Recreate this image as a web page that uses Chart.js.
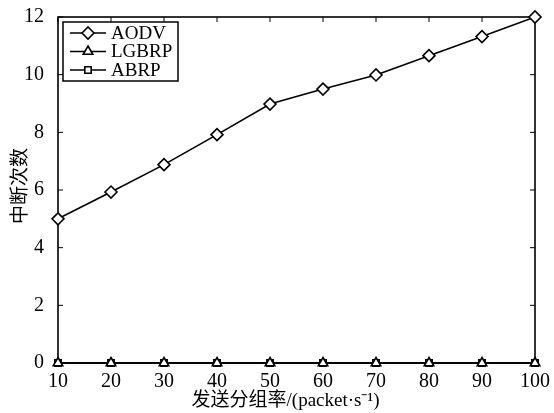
<!DOCTYPE html>
<html><head><meta charset="utf-8">
<script src="https://cdn.jsdelivr.net/npm/chart.js@4"></script>
<style>html,body{margin:0;padding:0;background:#fff}#w{width:554px;height:413px;position:relative}</style>
</head><body><div id="w"><canvas id="c"></canvas></div>
<script>
const categories = [10, 20, 30, 40, 50, 60, 70, 80, 90, 100];
const aodv  = [5, 5.93, 6.88, 7.92, 8.98, 9.5, 9.99, 10.66, 11.32, 12];
const lgbrp = [0, 0, 0, 0, 0, 0, 0, 0, 0, 0];
const abrp  = [0, 0, 0, 0, 0, 0, 0, 0, 0, 0];
const yTicks = [0, 2, 4, 6, 8, 10, 12];
const seriesNames = ['AODV', 'LGBRP', 'ABRP'];
const xTitle = '发送分组率/(packet·s⁻¹)';
const yTitle = '中断次数';

const serif = "'Liberation Serif', 'Noto Sans CJK SC', serif";
const radii = { rectRot: 6, triangle: 5.5, rect: 4.5 };

function mk(label, vals, style) {
  return {
    label, data: categories.map((x, i) => ({x, y: vals[i]})),
    borderColor: '#000', backgroundColor: '#fff', borderWidth: 1.6,
    pointStyle: style, pointRadius: radii[style], pointBorderWidth: 1.6,
    pointBackgroundColor: '#fff', pointBorderColor: '#000',
    clip: false, tension: 0
  };
}

const frame = {
  id: 'frame',
  beforeDatasetsDraw(chart) {
    const {ctx, chartArea: a, scales} = chart;
    ctx.save();
    ctx.strokeStyle = '#000'; ctx.lineWidth = 1.6;
    ctx.strokeRect(a.left, a.top, a.right - a.left, a.bottom - a.top);
    ctx.lineWidth = 1;
    yTicks.forEach(v => {
      const y = scales.y.getPixelForValue(v);
      ctx.beginPath(); ctx.moveTo(a.left, y); ctx.lineTo(a.left + 5, y);
      ctx.moveTo(a.right, y); ctx.lineTo(a.right - 5, y); ctx.stroke();
    });
    categories.forEach(v => {
      const x = scales.x.getPixelForValue(v);
      ctx.beginPath(); ctx.moveTo(x, a.bottom); ctx.lineTo(x, a.bottom - 5);
      ctx.moveTo(x, a.top); ctx.lineTo(x, a.top + 5); ctx.stroke();
    });
    ctx.fillStyle = '#000';
    ctx.font = "19px " + serif; ctx.textAlign = 'center'; ctx.textBaseline = 'middle';
    ctx.fillText(xTitle, (a.left + a.right) / 2 - 11, 401);
    ctx.save();
    ctx.translate(21, (a.top + a.bottom) / 2 - 4);
    ctx.rotate(-Math.PI / 2);
    ctx.fillText(yTitle, 0, 0);
    ctx.restore();
    ctx.restore();
  },
  afterDatasetsDraw(chart) {
    const {ctx, chartArea: a} = chart;
    ctx.save();
    const bx = a.left + 5, by = a.top + 5, bw = 115, bh = 59;
    ctx.fillStyle = '#fff'; ctx.fillRect(bx, by, bw, bh);
    ctx.strokeStyle = '#000'; ctx.lineWidth = 1.5; ctx.strokeRect(bx, by, bw, bh);
    chart.data.datasets.forEach((ds, i) => {
      const y = by + 11 + i * 18.5;
      ctx.strokeStyle = '#000'; ctx.lineWidth = 1.6;
      ctx.beginPath(); ctx.moveTo(bx + 7, y); ctx.lineTo(bx + 43, y); ctx.stroke();
      ctx.fillStyle = '#fff';
      Chart.helpers.drawPoint(ctx, {pointStyle: ds.pointStyle, radius: radii[ds.pointStyle], rotation: 0, borderWidth: 1.6}, bx + 25, y);
      ctx.fillStyle = '#000';
      ctx.font = "19px " + serif; ctx.textBaseline = 'middle'; ctx.textAlign = 'left';
      ctx.fillText(ds.label, bx + 48, y + 1);
    });
    ctx.restore();
  }
};

new Chart(document.getElementById('c'), {
  type: 'line',
  data: { datasets: [mk(seriesNames[0], aodv, 'rectRot'), mk(seriesNames[1], lgbrp, 'triangle'), mk(seriesNames[2], abrp, 'rect')] },
  options: {
    responsive: true, maintainAspectRatio: false, animation: false,
    layout: { padding: { top: 17, right: 19, left: 0, bottom: 0 } },
    plugins: { legend: { display: false }, tooltip: { enabled: false } },
    scales: {
      x: {
        type: 'linear', min: 10, max: 100,
        afterBuildTicks: s => { s.ticks = categories.map(v => ({value: v})); },
        grid: { display: false }, border: { display: false },
        ticks: { color: '#000', font: { family: serif, size: 20, lineHeight: 1 }, padding: 1, maxRotation: 0 },
        afterFit: s => { s.height = 50; s.paddingLeft = 0; s.paddingRight = 0; }
      },
      y: {
        type: 'linear', min: 0, max: 12,
        afterBuildTicks: s => { s.ticks = yTicks.map(v => ({value: v})); },
        grid: { display: false }, border: { display: false },
        ticks: { color: '#000', font: { family: serif, size: 20 }, padding: 6 },
        afterFit: s => { s.width = 58; s.paddingTop = 0; s.paddingBottom = 0; }
      }
    }
  },
  plugins: [frame]
});
</script>
</body></html>
